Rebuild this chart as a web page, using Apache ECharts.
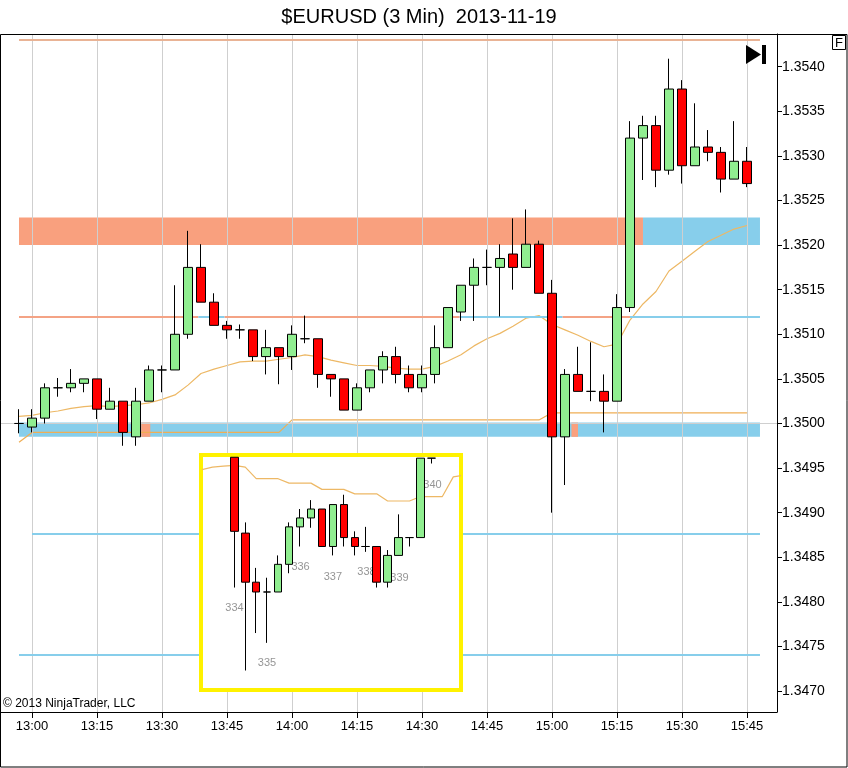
<!DOCTYPE html>
<html><head><meta charset="utf-8">
<script src="https://cdn.jsdelivr.net/npm/echarts@6/dist/echarts.min.js"></script>
<style>html,body{margin:0;padding:0;background:#fff}#c{width:848px;height:768px}</style>
</head><body><div id="c"></div>
<script>
// ---------- main chart data ----------
const barTimes = ['12:57','13:00','13:03','13:06','13:09','13:12','13:15','13:18','13:21','13:24','13:27','13:30','13:33','13:36','13:39','13:42','13:45','13:48','13:51','13:54','13:57','14:00','14:03','14:06','14:09','14:12','14:15','14:18','14:21','14:24','14:27','14:30','14:33','14:36','14:39','14:42','14:45','14:48','14:51','14:54','14:57','15:00','15:03','15:06','15:09','15:12','15:15','15:18','15:21','15:24','15:27','15:30','15:33','15:36','15:39','15:42','15:45'];
const opens  = [1.35000,1.34996,1.35006,1.35040,1.35040,1.35045,1.35050,1.35016,1.35025,1.34985,1.35025,1.35060,1.35060,1.35100,1.35175,1.35136,1.35110,1.35105,1.35105,1.35075,1.35085,1.35075,1.35095,1.35095,1.35055,1.35050,1.35015,1.35040,1.35060,1.35075,1.35055,1.35040,1.35055,1.35085,1.35125,1.35155,1.35175,1.35175,1.35190,1.35175,1.35201,1.35146,1.34985,1.35055,1.35036,1.35036,1.35025,1.35130,1.35320,1.35334,1.35284,1.35375,1.35289,1.35310,1.35304,1.35274,1.35294];
const closes = [1.35000,1.35006,1.35040,1.35040,1.35045,1.35050,1.35016,1.35025,1.34990,1.35025,1.35060,1.35060,1.35100,1.35175,1.35136,1.35110,1.35105,1.35105,1.35075,1.35085,1.35075,1.35100,1.35095,1.35055,1.35050,1.35015,1.35040,1.35060,1.35075,1.35055,1.35040,1.35055,1.35085,1.35130,1.35155,1.35175,1.35175,1.35185,1.35175,1.35201,1.35146,1.34985,1.35055,1.35036,1.35036,1.35025,1.35130,1.35320,1.35334,1.35284,1.35375,1.35289,1.35310,1.35304,1.35274,1.35294,1.35269];
const lows   = [1.34989,1.34990,1.35000,1.35030,1.35035,1.35035,1.35005,1.35016,1.34975,1.34975,1.35025,1.35035,1.35060,1.35095,1.35136,1.35110,1.35095,1.35095,1.35070,1.35055,1.35044,1.35060,1.35090,1.35040,1.35030,1.35015,1.35015,1.35035,1.35045,1.35045,1.35035,1.35035,1.35045,1.35085,1.35115,1.35115,1.35155,1.35120,1.35150,1.35175,1.35146,1.34900,1.34931,1.35036,1.35025,1.34990,1.35025,1.35125,1.35273,1.35265,1.35279,1.35269,1.35289,1.35294,1.35259,1.35274,1.35265];
const highs  = [1.35016,1.35016,1.35045,1.35051,1.35061,1.35050,1.35050,1.35040,1.35025,1.35040,1.35065,1.35065,1.35155,1.35216,1.35201,1.35146,1.35115,1.35111,1.35105,1.35105,1.35085,1.35110,1.35121,1.35095,1.35055,1.35050,1.35045,1.35060,1.35081,1.35086,1.35065,1.35065,1.35110,1.35130,1.35155,1.35185,1.35195,1.35201,1.35230,1.35240,1.35205,1.35161,1.35061,1.35086,1.35091,1.35055,1.35145,1.35339,1.35345,1.35345,1.35409,1.35385,1.35359,1.35329,1.35310,1.35339,1.35310];
const maValues = [1.35008,1.35009,1.35012,1.35014,1.35017,1.35019,1.35020,1.35019,1.35020,1.35021,1.35023,1.35027,1.35032,1.35043,1.35056,1.35061,1.35065,1.35069,1.35070,1.35070,1.35072,1.35074,1.35077,1.35075,1.35071,1.35068,1.35065,1.35065,1.35064,1.35062,1.35061,1.35061,1.35064,1.35070,1.35077,1.35087,1.35095,1.35101,1.35109,1.35118,1.35121,1.35111,1.35105,1.35099,1.35092,1.35086,1.35089,1.35116,1.35134,1.35148,1.35171,1.35182,1.35193,1.35204,1.35211,1.35218,1.35222];
const stopLine = [1.34979,1.34990,1.34990,1.34990,1.34990,1.34990,1.34990,1.34990,1.34990,1.34990,1.34990,1.34990,1.34990,1.34990,1.34990,1.34990,1.34990,1.34990,1.34990,1.34990,1.34990,1.35004,1.35004,1.35004,1.35004,1.35004,1.35004,1.35004,1.35004,1.35004,1.35004,1.35004,1.35004,1.35004,1.35004,1.35004,1.35004,1.35004,1.35004,1.35004,1.35004,1.35012,1.35012,1.35012,1.35012,1.35012,1.35012,1.35012,1.35012,1.35012,1.35012,1.35012,1.35012,1.35012,1.35012,1.35012,1.35012];
const tickBars = [1,6,11,16,21,26,31,36,41,46,51,56];
const priceTicks = [1.3470,1.3475,1.3480,1.3485,1.3490,1.3495,1.3500,1.3505,1.3510,1.3515,1.3520,1.3525,1.3530,1.3535,1.3540];
const priceGrid = [1.3470,1.3485,1.3500,1.3515,1.3530];
// levels and zones (prices, bar spans)
const topLevel = 1.35430;
const topLevelSpan = [0, 57];
const upperZone = [1.35200, 1.35231];
const upperZoneResist = [[0, 48]];
const upperZoneSupport = [[48, 57]];
const midLevel = 1.35120;
const midLevelResist = [[0, 13.8], [15.8, 33.9], [41.8, 47]];
const midLevelSupport = [[13.8, 15.8], [33.9, 41.8], [47, 57]];
const lowerZone = [1.34985, 1.35001];
const lowerZoneSupport = [[0, 57]];
const lowerZoneResist = [[9.4, 10.1], [42.5, 43.0]];
const supportLevels = [1.34876, 1.34741];
const supportStarts = [1, 0];
const levelsEnd = 57;

// ---------- inset data ----------
const insetOpens  = [1.34963,1.34878,1.34823,1.34812,1.34812,1.34843,1.34885,1.34895,1.34905,1.34863,1.34910,1.34873,1.34863,1.34863,1.34823,1.34853,1.34873,1.34873,1.34962];
const insetCloses = [1.34880,1.34823,1.34812,1.34812,1.34843,1.34885,1.34895,1.34905,1.34863,1.34910,1.34873,1.34863,1.34863,1.34823,1.34853,1.34873,1.34873,1.34962,1.34962];
const insetLows   = [1.34817,1.34724,1.34766,1.34755,1.34812,1.34833,1.34863,1.34884,1.34863,1.34853,1.34863,1.34853,1.34857,1.34817,1.34817,1.34853,1.34863,1.34873,1.34956];
const insetHighs  = [1.34963,1.34890,1.34839,1.34828,1.34853,1.34890,1.34905,1.34915,1.34905,1.34910,1.34921,1.34880,1.34885,1.34863,1.34859,1.34899,1.34873,1.34962,1.34962];
const insetMAStart = -3;
const insetMA = [1.34949,1.34952,1.34953,1.34954,1.34952,1.34939,1.34939,1.34939,1.34934,1.34934,1.34934,1.34927,1.34927,1.34927,1.34922,1.34922,1.34922,1.34914,1.34914,1.34914,1.34919,1.34919,1.34919,1.34941,1.34943];
const insetLabels = ['334','335','336','337','338','339','340'];
const insetLabelBars = [0.02, 2.98, 6.05, 9.0, 12.07, 15.09, 18.1];
const insetLabelPrices = [1.34794, 1.34732, 1.34840, 1.34829, 1.34834, 1.34828, 1.34932];
const insetTopLevel = 1.34951;
const insetTopSupport = [[-2.9, -0.3], [17.3, 20.6]];
const insetTopResist = [[-0.3, 17.3]];
const insetZone = [1.34811, 1.34828];
const insetZoneSupport = [[-2.9, 20.6]];
const insetZoneResist = [[2.9, 5.0]];
const insetGridBars = [2, 12];

// ---------- colours ----------
const SALMON = '#F9A07E', SKY = '#87CEEB', GRIDC = '#CFCFCF';

function areas(spans, lo, hi, color) {
  return spans.map(s => [{coord: [s[0], lo], itemStyle: {color: color, opacity: 1}}, {coord: [s[1], hi]}]);
}
function segs(spans, y, color, w) {
  return spans.map(s => [{coord: [s[0], y], lineStyle: {color: color, width: w, type: 'solid'}}, {coord: [s[1], y]}]);
}
const mlBase = {symbol: ['none', 'none'], silent: true, animation: false, label: {show: false}, emphasis: {disabled: true}};
const maBase = {silent: true, animation: false, label: {show: false}, emphasis: {disabled: true}};

const chart = echarts.init(document.getElementById('c'), null, {renderer: 'canvas'});

const candleStyle = {color: '#90EE90', color0: '#FF0000', borderColor: '#000', borderColor0: '#000', borderColorDoji: '#000', borderWidth: 1};

const option = {
  animation: false,
  backgroundColor: '#fff',
  grid: [
    {left: 1, top: 34, width: 776, height: 678, containLabel: false},
    {left: 203, top: 457, width: 256, height: 231, containLabel: false}
  ],
  xAxis: [
    {type: 'value', gridIndex: 0, min: -1.385, max: 58.31, position: 'bottom',
     axisLine: {show: true, onZero: false, lineStyle: {color: '#000', width: 1}},
     axisTick: {show: true, customValues: tickBars, length: 6, lineStyle: {color: '#000'}},
     axisLabel: {show: true, customValues: tickBars, formatter: v => barTimes[Math.round(v)], color: '#000', fontSize: 13, fontFamily: 'Liberation Sans, Arial, sans-serif', margin: 8},
     splitLine: {show: false}},
    {type: 'value', gridIndex: 1, min: -2.86, max: 20.52, show: false, axisLine: {onZero: false}, splitLine: {show: false}}
  ],
  yAxis: [
    {type: 'value', gridIndex: 0, position: 'right', min: 1.346765, max: 1.354367, scale: true,
     axisLine: {show: true, onZero: false, lineStyle: {color: '#000', width: 1}},
     axisTick: {show: true, customValues: priceTicks, length: 5, lineStyle: {color: '#000'}},
     axisLabel: {show: true, customValues: priceTicks, formatter: v => v.toFixed(4), color: '#000', fontSize: 14, fontFamily: 'Liberation Sans, Arial, sans-serif', margin: 5},
     splitLine: {show: false}},
    {type: 'value', gridIndex: 1, min: 1.347044, max: 1.349633, scale: true, show: false, axisLine: {onZero: false}, splitLine: {show: false}}
  ],
  graphic: {elements: [
    {type: 'text', x: 419, y: 17, z: 50, style: {text: '$EURUSD (3 Min)  2013-11-19', fill: '#000', font: '20px "Liberation Sans", Arial, sans-serif', textAlign: 'center', textVerticalAlign: 'middle'}},
    {type: 'rect', z: 50, shape: {x: 0.5, y: 34.5, width: 846.5, height: 732.5}, style: {fill: 'none', stroke: '#000', lineWidth: 1}},
    {type: 'rect', z: 50, shape: {x: 832.5, y: 35.5, width: 13, height: 14}, style: {fill: '#fff', stroke: '#000', lineWidth: 1}},
    {type: 'text', x: 839, y: 43, z: 51, style: {text: 'F', fill: '#000', font: '13px "Liberation Sans", Arial, sans-serif', textAlign: 'center', textVerticalAlign: 'middle'}},
    {type: 'polygon', z: 50, shape: {points: [[746, 45], [746, 64], [761, 54.5]]}, style: {fill: '#000'}},
    {type: 'rect', z: 50, shape: {x: 762, y: 45, width: 4, height: 19}, style: {fill: '#000'}},
    {type: 'text', x: 3, y: 704, z: 50, style: {text: '\u00A9 2013 NinjaTrader, LLC', fill: '#000', font: '12px "Liberation Sans", Arial, sans-serif', textVerticalAlign: 'middle'}},
    {type: 'rect', z: 10, shape: {x: 201, y: 455, width: 260, height: 235}, style: {fill: '#fff', stroke: '#FFF200', lineWidth: 4}}
  ]},
  series: [
    // main grid lines
    {type: 'line', xAxisIndex: 0, yAxisIndex: 0, data: [], z: 1,
     markLine: Object.assign({}, mlBase, {lineStyle: {color: GRIDC, width: 1, type: 'solid'},
       data: tickBars.map(b => ({xAxis: b})).concat(priceGrid.map(p => ({yAxis: p})))})},
    // zones
    {type: 'line', xAxisIndex: 0, yAxisIndex: 0, data: [], z: 2,
     markArea: Object.assign({}, maBase, {data:
       areas(upperZoneSupport, upperZone[0], upperZone[1], SKY)
       .concat(areas(upperZoneResist, upperZone[0], upperZone[1], SALMON))
       .concat(areas(lowerZoneSupport, lowerZone[0], lowerZone[1], SKY))})},
    // zone patches and level lines
    {type: 'line', xAxisIndex: 0, yAxisIndex: 0, data: [], z: 3,
     markArea: Object.assign({}, maBase, {data: areas(lowerZoneResist, lowerZone[0], lowerZone[1], SALMON)}),
     markLine: Object.assign({}, mlBase, {data:
       segs([topLevelSpan], topLevel, '#E9B395', 2)
       .concat(segs(midLevelResist, midLevel, '#F4A385', 2))
       .concat(segs(midLevelSupport, midLevel, SKY, 2))
       .concat(supportLevels.map((p, k) => [{coord: [supportStarts[k], p], lineStyle: {color: SKY, width: 2, type: 'solid'}}, {coord: [levelsEnd, p]}]))})},
    // moving average & stop line
    {type: 'line', xAxisIndex: 0, yAxisIndex: 0, z: 4, showSymbol: false, silent: true,
     data: maValues.map((v, i) => [i, v]), lineStyle: {color: '#EDB865', width: 1.2}},
    {type: 'line', xAxisIndex: 0, yAxisIndex: 0, z: 4, showSymbol: false, silent: true,
     data: stopLine.map((v, i) => [i, v]), lineStyle: {color: '#EFAE55', width: 1.2}},
    // candles
    {type: 'candlestick', xAxisIndex: 0, yAxisIndex: 0, z: 5, barWidth: 10, silent: true,
     dimensions: ['idx', 'open', 'close', 'low', 'high'],
     encode: {x: 'idx', y: ['open', 'close', 'low', 'high']},
     data: opens.map((o, i) => [i, o, closes[i], lows[i], highs[i]]),
     itemStyle: candleStyle},

    // ---------- inset ----------
    {type: 'line', xAxisIndex: 1, yAxisIndex: 1, data: [], z: 11,
     markLine: Object.assign({}, mlBase, {lineStyle: {color: GRIDC, width: 1, type: 'solid'},
       data: insetGridBars.map(b => ({xAxis: b}))}),
     markArea: Object.assign({}, maBase, {data: areas(insetZoneSupport, insetZone[0], insetZone[1], SKY)})},
    {type: 'line', xAxisIndex: 1, yAxisIndex: 1, data: [], z: 12,
     markArea: Object.assign({}, maBase, {data: areas(insetZoneResist, insetZone[0], insetZone[1], SALMON)}),
     markLine: Object.assign({}, mlBase, {data:
       segs(insetTopResist, insetTopLevel, '#EFAA92', 2)
       .concat(segs(insetTopSupport, insetTopLevel, SKY, 2))})},
    {type: 'line', xAxisIndex: 1, yAxisIndex: 1, z: 13, showSymbol: false, silent: true, clip: true,
     data: insetMA.map((v, k) => [k + insetMAStart, v]), lineStyle: {color: '#EDB865', width: 1.2}},
    {type: 'scatter', xAxisIndex: 1, yAxisIndex: 1, z: 13, silent: true, symbolSize: 1,
     itemStyle: {color: 'rgba(0,0,0,0)'},
     data: insetLabels.map((t, k) => [insetLabelBars[k], insetLabelPrices[k], t]),
     label: {show: true, position: 'inside', formatter: p => p.value[2], color: '#7A7A7A', fontSize: 11, fontFamily: 'Liberation Sans, Arial, sans-serif'}},
    {type: 'candlestick', xAxisIndex: 1, yAxisIndex: 1, z: 14, barWidth: 8, silent: true, clip: true,
     dimensions: ['idx', 'open', 'close', 'low', 'high'],
     encode: {x: 'idx', y: ['open', 'close', 'low', 'high']},
     data: insetOpens.map((o, i) => [i, o, insetCloses[i], insetLows[i], insetHighs[i]]),
     itemStyle: candleStyle}
  ]
};
chart.setOption(option);
</script>
</body></html>
